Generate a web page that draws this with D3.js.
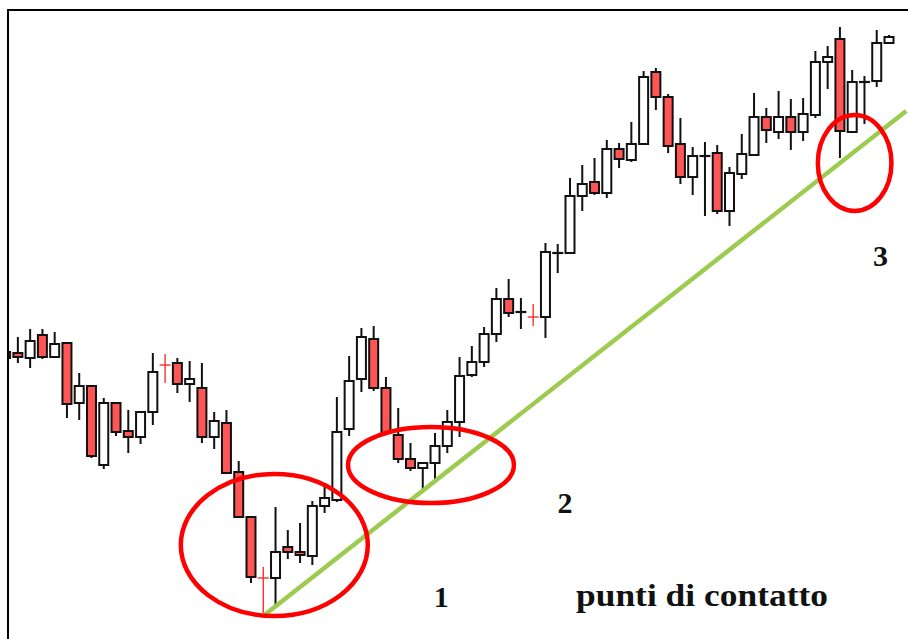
<!DOCTYPE html>
<html>
<head>
<meta charset="utf-8">
<script src="https://cdn.jsdelivr.net/npm/d3@7"></script>
<style>
  html, body { margin: 0; padding: 0; background: #fff; }
  svg { display: block; }
</style>
</head>
<body>
<svg id="chart"></svg>
<script>
// candle data, one entry per session (price units)
const opens  = [288,287,282,305,283,297,237,254,175,237,209,203,228,275,277,256,252,203,217,168,123,62,62,93,88,84,134,140,211,261,301,252,205,181,172,177,194,218,265,278,306,341,328,323,323,387,387,444,458,447,491,480,496,568,543,496,463,484,487,429,466,485,523,508,523,508,525,578,601,508,558,559,597];
const highs  = [292,303,311,311,308,298,267,254,242,238,230,228,287,286,282,279,277,228,230,179,123,73,133,110,117,139,157,243,284,312,314,263,232,197,178,207,230,283,294,313,352,361,342,336,397,396,462,475,482,500,497,518,569,572,546,522,493,498,495,473,506,547,532,549,541,542,589,594,613,570,564,610,605];
const lows   = [278,277,272,281,283,222,220,182,171,204,187,196,215,257,247,238,197,191,166,123,57,27,35,81,77,75,127,138,204,248,249,207,177,169,151,161,187,203,263,273,298,323,311,314,302,367,387,429,445,442,472,478,496,530,487,456,445,424,426,414,461,485,497,501,490,499,522,551,482,508,516,553,597];
const closes = [282,283,299,283,296,236,254,184,237,208,203,228,268,274.5,256,261,203,219,167,123,63,61.5,88,88,85,134,142,208,259,303,252,207,181,172,177,194,218,264,278,306,341,327,328,322.5,388,387,444,456,447,491,481,496,563,543,494,463,484,484,429,467,486,523,510,523,508,526,578,583,509,558,558,597,603];

// support line and the three contact zones
const trendIdx   = [21.1, 73.4];
const trendPrice = [25, 529];
const zoneIdx    = [21.9, 34.67, 69.2];
const zonePrice  = [95, 175, 477];
const zoneHalfW  = [7.62, 6.76, 3.0];   // in sessions
const zoneHalfH  = [71, 38, 48];        // in price units

const labelText  = ["1", "2", "3"];
const labelIdx   = [35.5, 45.6, 71.3];
const labelPrice = [33, 127, 374];
const caption = "punti di contatto";

const width = 908, height = 639;
const frame = {left: 8, top: 10};

const svg = d3.select('#chart')
    .attr('width', width)
    .attr('height', height);

const xScale = d3.scaleLinear().domain([0, 72]).range([5.6, 889]);
const yScale = d3.scaleLinear().domain([0, 640]).range([640, 0]);
const step = xScale(1) - xScale(0);
const bodyW = 9;

svg.append('defs').append('clipPath').attr('id', 'plot')
    .append('rect')
    .attr('x', frame.left + 1).attr('y', frame.top + 1)
    .attr('width', width).attr('height', height);

const data = opens.map((o, i) => ({i: i, o: o, h: highs[i], l: lows[i], c: closes[i]}));

const plot = svg.append('g').attr('clip-path', 'url(#plot)');

const candles = plot.selectAll('.candle')
    .data(data)
    .enter()
    .append('g')
    .attr('class', 'candle')
    .attr('transform', d => `translate(${xScale(d.i)},0)`);

const isDoji = d => Math.abs(yScale(d.o) - yScale(d.c)) < 1;
const down = d => d.c < d.o;

// wicks
candles.append('line')
    .attr('x1', 0).attr('x2', 0)
    .attr('y1', d => yScale(d.h))
    .attr('y2', d => yScale(d.l))
    .attr('stroke', d => isDoji(d) && down(d) ? '#ff2020' : '#111')
    .attr('stroke-width', d => isDoji(d) && down(d) ? 1.3 : 2);

// bodies
candles.filter(d => !isDoji(d))
    .append('rect')
    .attr('x', -bodyW / 2)
    .attr('y', d => yScale(Math.max(d.o, d.c)))
    .attr('width', bodyW)
    .attr('height', d => Math.abs(yScale(d.o) - yScale(d.c)))
    .attr('fill', d => down(d) ? '#ff5555' : '#fff')
    .attr('stroke', '#111')
    .attr('stroke-width', 2);

// doji crosses
candles.filter(d => isDoji(d))
    .append('line')
    .attr('x1', -bodyW / 2 - 1).attr('x2', bodyW / 2 + 1)
    .attr('y1', d => yScale(d.o)).attr('y2', d => yScale(d.o))
    .attr('stroke', d => down(d) ? '#ff2020' : '#111')
    .attr('stroke-width', d => down(d) ? 1.3 : 2.2);

// support line
svg.append('line')
    .attr('x1', xScale(trendIdx[0])).attr('y1', yScale(trendPrice[0]))
    .attr('x2', xScale(trendIdx[1])).attr('y2', yScale(trendPrice[1]))
    .attr('stroke', '#9ccb50')
    .attr('stroke-width', 4.5);

// contact zones
svg.selectAll('.zone')
    .data(zoneIdx)
    .enter()
    .append('ellipse')
    .attr('class', 'zone')
    .attr('cx', (d, k) => xScale(d))
    .attr('cy', (d, k) => yScale(zonePrice[k]))
    .attr('rx', (d, k) => zoneHalfW[k] * step)
    .attr('ry', (d, k) => yScale(0) - yScale(zoneHalfH[k]))
    .attr('fill', 'none')
    .attr('stroke', '#f00')
    .attr('stroke-width', 4.5);

// frame
svg.append('path')
    .attr('d', `M${frame.left},${height} V${frame.top} H${width}`)
    .attr('fill', 'none')
    .attr('stroke', '#000')
    .attr('stroke-width', 2);

// labels
svg.selectAll('.num')
    .data(labelText)
    .enter()
    .append('text')
    .attr('class', 'num')
    .attr('x', (d, k) => xScale(labelIdx[k]))
    .attr('y', (d, k) => yScale(labelPrice[k]))
    .attr('text-anchor', 'middle')
    .attr('font-family', '"Liberation Serif", "Times New Roman", serif')
    .attr('font-weight', 'bold')
    .attr('font-size', '30px')
    .attr('fill', '#111')
    .text(d => d);

svg.append('text')
    .attr('x', 576)
    .attr('y', 606)
    .attr('font-family', '"Liberation Serif", "Times New Roman", serif')
    .attr('font-weight', 'bold')
    .attr('font-size', '31px')
    .attr('textLength', 252)
    .attr('lengthAdjust', 'spacingAndGlyphs')
    .attr('fill', '#111')
    .text(caption);
</script>
</body>
</html>
